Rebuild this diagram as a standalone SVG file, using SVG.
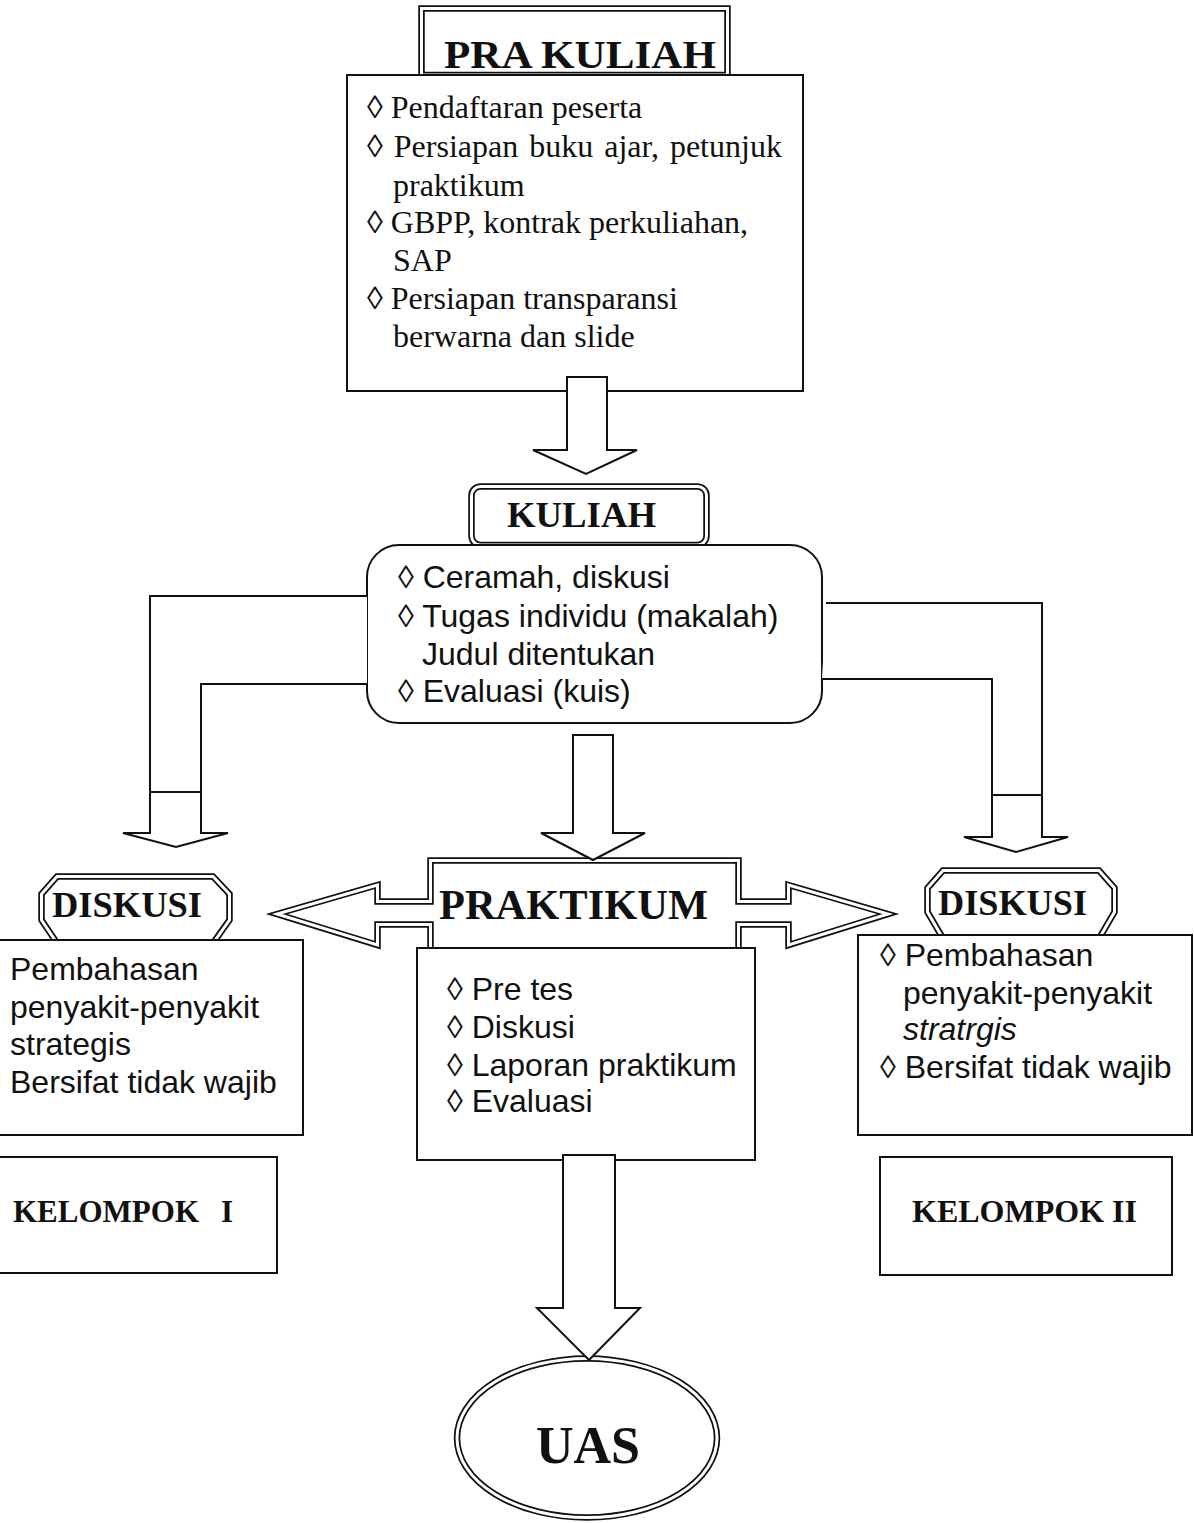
<svg xmlns="http://www.w3.org/2000/svg" width="1194" height="1523" viewBox="0 0 1194 1523">
<style>
.bg{fill:#fff}
.box{fill:#fff;stroke:#111;stroke-width:2}
.dblo{fill:#fff;stroke:#111;stroke-width:6.5;stroke-linejoin:miter}
.dbli{fill:none;stroke:#fff;stroke-width:3;stroke-linejoin:miter}
.arrow{fill:#fff;stroke:#111;stroke-width:2;stroke-linejoin:miter}
.line{fill:none;stroke:#111;stroke-width:2}
.title{font-family:"Liberation Serif","Times New Roman",serif;font-weight:bold;fill:#111}
.serif{font-family:"Liberation Serif","Times New Roman",serif;font-size:32px;fill:#111}
.sans{font-family:"Liberation Sans",Arial,sans-serif;font-size:32px;fill:#111}
</style>
<rect class="bg" x="0" y="0" width="1194" height="1523"/>

<g id="pra-kuliah">
  <rect class="dblo" x="421.5" y="8.5" width="306" height="66.5"/>
  <rect class="dbli" x="421.5" y="8.5" width="306" height="66.5"/>
  <text class="title" x="444" y="68" font-size="40" textLength="272" lengthAdjust="spacingAndGlyphs">PRA KULIAH</text>
  <rect class="box" x="347" y="75" width="456" height="316"/>
  <text class="serif" x="367" y="118">◊ Pendaftaran peserta</text>
  <text class="serif" x="367" y="157" word-spacing="3">◊ Persiapan buku ajar, petunjuk</text>
  <text class="serif" x="393" y="196">praktikum</text>
  <text class="serif" x="367" y="233">◊ GBPP, kontrak perkuliahan,</text>
  <text class="serif" x="393" y="271">SAP</text>
  <text class="serif" x="367" y="309">◊ Persiapan transparansi</text>
  <text class="serif" x="393" y="347">berwarna dan slide</text>
</g>

<g id="kuliah">
  <rect class="dblo" x="471.5" y="486.5" width="235" height="58.5" rx="9"/>
  <rect class="dbli" x="471.5" y="486.5" width="235" height="58.5" rx="9"/>
  <text class="title" x="507" y="527" font-size="36" textLength="149" lengthAdjust="spacingAndGlyphs">KULIAH</text>
  <rect class="box" x="367" y="545" width="455" height="178" rx="32"/>
  <text class="sans" x="398" y="588">◊ Ceramah, diskusi</text>
  <text class="sans" x="398" y="627">◊ Tugas individu (makalah)</text>
  <text class="sans" x="422" y="665">Judul ditentukan</text>
  <text class="sans" x="398" y="702">◊ Evaluasi (kuis)</text>
</g>

<g id="diskusi-1">
  <path class="dblo" d="M57,876.5 L213,876.5 L229.5,894 L229.5,920 L211,946 L59,946 L41.5,920 L41.5,894 Z"/>
  <path class="dbli" d="M57,876.5 L213,876.5 L229.5,894 L229.5,920 L211,946 L59,946 L41.5,920 L41.5,894 Z"/>
  <text class="title" x="52" y="917" font-size="35" textLength="150" lengthAdjust="spacingAndGlyphs">DISKUSI</text>
  <rect class="box" x="-3" y="940" width="306" height="195"/>
  <text class="sans" x="10" y="980">Pembahasan</text>
  <text class="sans" x="10" y="1018">penyakit-penyakit</text>
  <text class="sans" x="10" y="1055">strategis</text>
  <text class="sans" x="10" y="1093">Bersifat tidak wajib</text>
</g>

<g id="kelompok-1">
  <rect class="box" x="-3" y="1157" width="280" height="116"/>
  <text class="title" x="13" y="1222" font-size="31">KELOMPOK <tspan x="221">I</tspan></text>
</g>

<g id="praktikum">
  <path class="dblo" d="M430.5,860.5 L738.5,860.5 L738.5,901.5 L788.5,901.5 L788.5,885 L888,914 L788.5,945 L788.5,924.5 L738.5,924.5 L738.5,962 L430.5,962 L430.5,924.5 L377.5,924.5 L377.5,945 L277,914 L377.5,885 L377.5,901.5 L430.5,901.5 Z"/>
  <path class="dbli" d="M430.5,860.5 L738.5,860.5 L738.5,901.5 L788.5,901.5 L788.5,885 L888,914 L788.5,945 L788.5,924.5 L738.5,924.5 L738.5,962 L430.5,962 L430.5,924.5 L377.5,924.5 L377.5,945 L277,914 L377.5,885 L377.5,901.5 L430.5,901.5 Z"/>
  <text class="title" x="439" y="919" font-size="42" textLength="269" lengthAdjust="spacingAndGlyphs">PRAKTIKUM</text>
  <rect class="box" x="417" y="948" width="338" height="212"/>
  <text class="sans" x="447" y="1000">◊ Pre tes</text>
  <text class="sans" x="447" y="1038">◊ Diskusi</text>
  <text class="sans" x="447" y="1076">◊ Laporan praktikum</text>
  <text class="sans" x="447" y="1112">◊ Evaluasi</text>
</g>

<g id="diskusi-2">
  <path class="dblo" d="M943,870.5 L1099,870.5 L1114.5,888 L1114.5,912 L1097,942 L945,942 L927.5,912 L927.5,888 Z"/>
  <path class="dbli" d="M943,870.5 L1099,870.5 L1114.5,888 L1114.5,912 L1097,942 L945,942 L927.5,912 L927.5,888 Z"/>
  <text class="title" x="938" y="915" font-size="35" textLength="149" lengthAdjust="spacingAndGlyphs">DISKUSI</text>
  <rect class="box" x="858" y="935" width="334" height="200"/>
  <text class="sans" x="880" y="966">◊ Pembahasan</text>
  <text class="sans" x="903" y="1004">penyakit-penyakit</text>
  <text class="sans" x="903" y="1040" font-style="italic">stratrgis</text>
  <text class="sans" x="880" y="1078">◊ Bersifat tidak wajib</text>
</g>

<g id="kelompok-2">
  <rect class="box" x="880" y="1157" width="292" height="118"/>
  <text class="title" x="912" y="1222" font-size="31" textLength="225" lengthAdjust="spacingAndGlyphs">KELOMPOK II</text>
</g>

<g id="uas">
  <ellipse class="dblo" cx="587" cy="1438" rx="130" ry="79.5"/>
  <ellipse class="dbli" cx="587" cy="1438" rx="130" ry="79.5"/>
  <text class="title" x="588" y="1463" font-size="52" text-anchor="middle">UAS</text>
</g>

<g id="connectors">
  <polygon class="arrow" points="567,377 607,377 607,450 637,450 586,474 533,450 567,450"/>
  <polyline class="arrow" points="367,596 150,596 150,833 123,833 176,847 228,833 201,833 201,684 367,684"/>
  <line class="line" x1="150" y1="792" x2="201" y2="792"/>
  <polyline class="arrow" points="826,603 1042,603 1042,837 1068,837 1016,852 964,837 992,837 992,679 822,679"/>
  <line class="line" x1="992" y1="795" x2="1042" y2="795"/>
  <polygon class="arrow" points="573,735 613,735 613,833 645,833 593,860 541,833 573,833"/>
  <polygon class="arrow" points="563,1155 615,1155 615,1308 640,1308 589,1360 537,1308 563,1308"/>
</g>
</svg>
